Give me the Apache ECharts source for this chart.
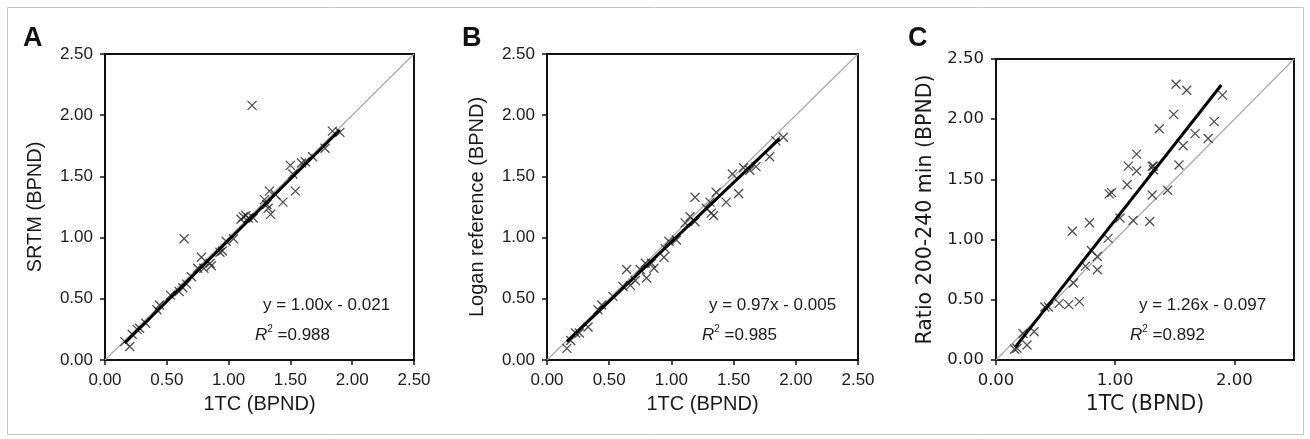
<!DOCTYPE html>
<html><head><meta charset="utf-8">
<script src="https://cdn.jsdelivr.net/npm/echarts@6/dist/echarts.min.js"></script>
<style>html,body{margin:0;padding:0;background:#fff}#c{width:1310px;height:439px}</style>
</head><body><div id="c"></div>
<script>
// ---- data ----
const panelLabels = ['A', 'B', 'C'];
const xTitle = '1TC (BPND)';
const yTitles = ['SRTM (BPND)', 'Logan reference (BPND)', 'Ratio 200-240 min (BPND)'];

const pointsA = [[0.16,0.15],[0.20,0.11],[0.22,0.21],[0.26,0.25],[0.28,0.26],[0.33,0.30],[0.42,0.41],[0.44,0.45],
  [0.53,0.53],[0.60,0.56],[0.63,0.59],[0.64,0.99],[0.66,0.62],[0.70,0.68],[0.75,0.75],[0.78,0.84],[0.80,0.75],
  [0.85,0.79],[0.86,0.77],[0.93,0.88],[0.95,0.89],[0.98,0.97],[1.04,0.99],[1.10,1.15],[1.12,1.17],[1.14,1.18],
  [1.16,1.16],[1.19,2.08],[1.20,1.16],[1.29,1.31],[1.31,1.27],[1.32,1.24],[1.33,1.38],[1.34,1.19],[1.38,1.35],
  [1.44,1.29],[1.50,1.59],[1.52,1.52],[1.54,1.38],[1.59,1.61],[1.62,1.62],[1.68,1.66],[1.78,1.73],[1.84,1.87],[1.90,1.86]];

const pointsB = [[0.16,0.095],[0.19,0.16],[0.23,0.22],[0.26,0.22],[0.33,0.27],[0.41,0.41],[0.44,0.45],[0.53,0.52],
  [0.61,0.60],[0.64,0.74],[0.67,0.61],[0.71,0.65],[0.75,0.74],[0.79,0.79],[0.80,0.67],[0.84,0.79],[0.86,0.75],
  [0.94,0.84],[0.95,0.91],[0.98,0.97],[1.04,0.98],[1.11,1.12],[1.15,1.17],[1.19,1.33],[1.19,1.13],[1.28,1.24],
  [1.31,1.29],[1.32,1.20],[1.34,1.18],[1.36,1.37],[1.44,1.29],[1.49,1.52],[1.54,1.36],[1.58,1.57],[1.63,1.55],
  [1.68,1.58],[1.79,1.66],[1.84,1.79],[1.90,1.82]];

const pointsC = [[0.156,0.089],[0.176,0.097],[0.226,0.22],[0.26,0.125],[0.32,0.235],[0.41,0.44],[0.44,0.44],
  [0.53,0.47],[0.61,0.46],[0.70,0.485],[0.64,1.07],[0.65,0.64],[0.75,0.78],[0.785,1.14],[0.80,0.91],[0.85,0.86],
  [0.85,0.75],[0.94,1.01],[0.95,1.38],[0.97,1.39],[1.04,1.18],[1.10,1.455],[1.11,1.61],[1.18,1.71],[1.18,1.57],
  [1.15,1.16],[1.29,1.15],[1.31,1.61],[1.32,1.61],[1.32,1.58],[1.31,1.37],[1.37,1.92],[1.44,1.41],[1.49,2.04],
  [1.51,2.29],[1.535,1.62],[1.60,2.24],[1.57,1.78],[1.67,1.88],[1.78,1.84],[1.83,1.98],[1.90,2.20]];

const fitSlope = [1.00, 0.97, 1.26];
const fitIntercept = [-0.021, -0.005, -0.097];
const fitR2 = [0.988, 0.985, 0.892];
const fitXStart = [0.16, 0.16, 0.16];
const fitXEnd = [1.90, 1.87, 1.89];
const identityLine = [[0, 0], [2.5, 2.5]];
const xTickStep = [0.5, 0.5, 1];
const yTickStep = [0.5, 0.5, 0.5];
const axisMax = 2.5;

// ---- layout / style ----
const allPoints = [pointsA, pointsB, pointsC];
const grids = [
  {left: 105, top: 54, width: 309, height: 306},
  {left: 547, top: 54, width: 311, height: 306},
  {left: 996, top: 59, width: 298, height: 301}
];
const fonts = ['"Liberation Sans", Arial, sans-serif', '"Liberation Sans", Arial, sans-serif', '"DejaVu Sans", Verdana, sans-serif'];
const eqFont = '"Liberation Sans", Arial, sans-serif';
const eqPos = [[263, 297], [709, 297], [1139, 297]];
const r2Pos = [[255, 324], [702, 324], [1130, 324]];
const letterPos = [[23, 25], [462, 25], [908, 25]];
const tickFont = [17, 17, 16.5];
const titleFont = [20, 20, 20.5];

const xCross = 'path://M0,0L10,10M10,0L0,10';

const option = {
  animation: false,
  grid: grids.map(g => Object.assign({show: true, borderColor: '#111', borderWidth: 2, backgroundColor: 'transparent'}, g)),
  xAxis: grids.map((g, i) => ({
    type: 'value', gridIndex: i, min: 0, max: axisMax, interval: xTickStep[i],
    splitLine: {show: false},
    axisLine: {show: true, onZero: false, lineStyle: {color: '#111', width: 2}},
    axisTick: {show: true, length: 5, lineStyle: {color: '#111', width: 1.5},
      customValues: i === 2 ? [0, 1, 2] : undefined},
    axisLabel: {margin: 12, fontSize: tickFont[i], color: '#1a1a1a', fontFamily: fonts[i],
      customValues: i === 2 ? [0, 1, 2] : undefined,
      formatter: v => v.toFixed(2)},
    name: xTitle, nameLocation: 'middle', nameGap: 34,
    nameTextStyle: {fontSize: titleFont[i], color: '#1a1a1a', fontFamily: fonts[i]}
  })),
  yAxis: grids.map((g, i) => ({
    type: 'value', gridIndex: i, min: 0, max: axisMax, interval: yTickStep[i],
    splitLine: {show: false},
    axisLine: {show: true, onZero: false, lineStyle: {color: '#111', width: 2}},
    axisTick: {show: true, length: 5, lineStyle: {color: '#111', width: 1.5}},
    axisLabel: {margin: 12, fontSize: tickFont[i], color: '#1a1a1a', fontFamily: fonts[i],
      formatter: v => v.toFixed(2)},
    name: yTitles[i], nameLocation: 'middle', nameGap: i === 2 ? 60 : 60,
    nameTextStyle: {fontSize: titleFont[i], color: '#1a1a1a', fontFamily: fonts[i]}
  })),
  series: [],
  graphic: []
};

for (let i = 0; i < 3; i++) {
  option.series.push({
    type: 'line', xAxisIndex: i, yAxisIndex: i, data: identityLine, showSymbol: false, silent: true,
    lineStyle: {color: '#a8a8a8', width: 1.2}, z: 1
  });
  option.series.push({
    type: 'scatter', xAxisIndex: i, yAxisIndex: i, data: allPoints[i], symbol: xCross, symbolSize: 9,
    itemStyle: {color: 'transparent', borderColor: '#222', borderWidth: 1.3}, z: 2, silent: true
  });
  const fitLine = [fitXStart[i], fitXEnd[i]].map(x => [x, fitSlope[i] * x + fitIntercept[i]]);
  option.series.push({
    type: 'line', xAxisIndex: i, yAxisIndex: i, data: fitLine, showSymbol: false, silent: true,
    lineStyle: {color: '#000', width: 3}, z: 3
  });
  option.graphic.push({
    type: 'text', left: letterPos[i][0], top: letterPos[i][1],
    style: {text: panelLabels[i], font: 'bold 27px "Liberation Sans", Arial, sans-serif', fill: '#111'}
  });
  const eq = 'y = ' + fitSlope[i].toFixed(2) + 'x - ' + Math.abs(fitIntercept[i]).toFixed(3);
  option.graphic.push({
    type: 'text', left: eqPos[i][0], top: eqPos[i][1],
    style: {text: eq, font: '17px ' + eqFont, fill: '#1a1a1a'}
  });
  option.graphic.push({
    type: 'text', left: r2Pos[i][0], top: r2Pos[i][1],
    style: {
      text: '{i|R}{s|2}{n| =' + fitR2[i].toFixed(3) + '}',
      rich: {
        i: {fontSize: 17, fontStyle: 'italic', fontFamily: eqFont, fill: '#1a1a1a', lineHeight: 20, verticalAlign: 'bottom'},
        s: {fontSize: 10, fontFamily: eqFont, fill: '#1a1a1a', lineHeight: 20, verticalAlign: 'top'},
        n: {fontSize: 17, fontFamily: eqFont, fill: '#1a1a1a', lineHeight: 20, verticalAlign: 'bottom'}
      }
    }
  });
}
option.graphic.push({
  type: 'rect', shape: {x: 7.5, y: 7.5, width: 1296, height: 427},
  style: {fill: 'none', stroke: '#c4c4c4', lineWidth: 1}, z: -10, silent: true
});

const chart = echarts.init(document.getElementById('c'), null, {renderer: 'canvas'});
chart.setOption(option);
</script>
</body></html>
